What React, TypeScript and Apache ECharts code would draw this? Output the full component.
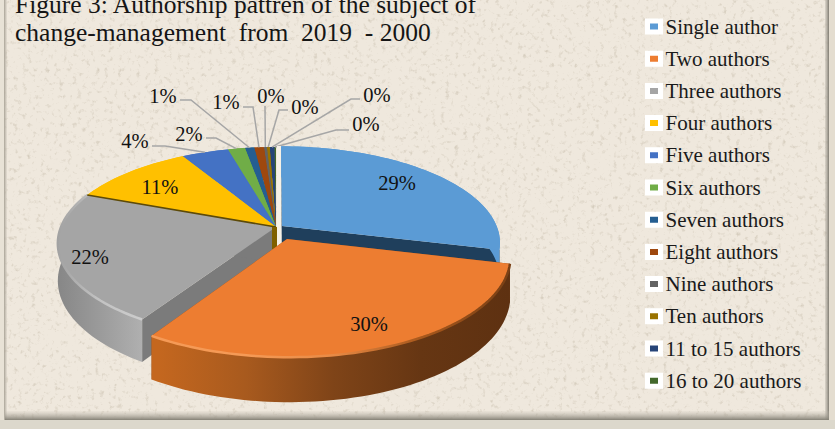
import React, { useEffect, useRef } from "react";
import * as echarts from "echarts";

const categories = ["Single author", "Two authors", "Three authors", "Four authors", "Five authors", "Six authors", "Seven authors", "Eight authors", "Nine authors", "Ten authors", "11 to 15 authors", "16 to 20 authors"];
const shares = [28.9, 30.05, 21.95, 10.8, 4.1, 1.5, 0.8, 0.85, 0.25, 0.25, 0.4, 0.15];
const palette = ["#5b9bd5", "#ed7d31", "#a5a5a5", "#ffc000", "#4472c4", "#70ad47", "#255e91", "#9e480e", "#636363", "#997300", "#264478", "#43682b"];
const titleText = "Figure 3: Authorship pattren of the subject of\nchange-management  from  2019  - 2000";

// Layout only: projection and per-slice styling
const CX = 276, CY = 227, RX = 215, RY = 93.6, K = 0.17, DEPTH = 36.4;
const explode: Record<number, [number, number]> = { 0: [0.028, -0.01], 1: [0.05, 0.125] };
const drawOrder = [11, 10, 9, 8, 7, 6, 5, 4, 3, 0, 2, 1];
const insideLabels: Record<number, [number, number]> = { 0: [397, 183], 1: [369, 324], 2: [90, 257], 3: [160, 187] };
// text centre, elbow x, elbow y
const outsideLabels: Record<number, [number, number, number, number]> = {
  4: [135, 141, 165, 146],
  5: [189, 134, 216, 138],
  6: [163, 96, 191, 100],
  7: [226, 102, 253, 107],
  8: [271, 96, 265, 106],
  9: [305, 107, 279, 110],
  10: [377, 95, 351, 99],
  11: [366, 124, 336, 130],
};
const SERIF = "'Liberation Serif', 'Times New Roman', serif";

const project = (u: number, v: number, h = 0): number[] => {
  const s = 1 / (1 - K * v);
  return [CX + RX * u * s, CY + RY * v * s + h * s];
};
const total = shares.reduce((a, b) => a + b, 0);
const boundaries = shares.reduce<number[]>((acc, s) => [...acc, acc[acc.length - 1] + (s / total) * Math.PI * 2], [0]);

const grad = (x0: number, x1: number, stops: string[]) =>
  new echarts.graphic.LinearGradient(x0, 0, x1, 0, stops.map((color, i) => ({ offset: i / (stops.length - 1), color })), true);

const wallFill: Record<number, any> = {
  1: () => grad(158, 509, ["#c4671f", "#a85a1e", "#7f4418", "#663613", "#5e3111"]),
  2: () => grad(54, 143, ["#858585", "#9a9a9a", "#b0b0b0"]),
};
const bevel: Record<number, any> = {
  1: () => grad(158, 509, ["#f59a56", "#f59a56", "#e88a45", "#a8581c", "#7a4015"]),
  2: () => grad(54, 143, ["#9f9f9f", "#c2c2c2", "#cdcdcd"]),
};
const faceColor: Record<number, string> = { 0: "#1f3f5c", 1: "#8a4a1c", 2: "#7b7b7b" };

function renderSlice(i: number) {
  const a0 = boundaries[i], a1 = boundaries[i + 1];
  const [ou, ov] = explode[i] || [0, 0];
  const steps = Math.max(4, Math.ceil((a1 - a0) / 0.03));
  const top: number[][] = [], bottom: number[][] = [];
  for (let n = 0; n <= steps; n++) {
    const a = a0 + ((a1 - a0) * n) / steps;
    const u = Math.sin(a) + ou, v = -Math.cos(a) + ov;
    top.push(project(u, v));
    bottom.push(project(u, v, DEPTH));
  }
  const apex = project(ou, ov), apexB = project(ou, ov, DEPTH);
  const children: any[] = [];
  const color = palette[i];
  const fFace = faceColor[i] || color;
  children.push({ type: "polygon", shape: { points: [apex, top[0], bottom[0], apexB] }, style: { fill: fFace } });
  children.push({ type: "polygon", shape: { points: [apex, top[steps], bottom[steps], apexB] }, style: { fill: fFace } });
  children.push({ type: "polygon", shape: { points: [...top, ...bottom.slice().reverse()] }, style: { fill: wallFill[i] ? wallFill[i]() : color } });
  children.push({ type: "polygon", shape: { points: [apex, ...top] }, style: { fill: color } });
  if (bevel[i]) {
    children.push({ type: "polyline", shape: { points: top }, style: { fill: "none", stroke: bevel[i](), lineWidth: 2.5 } });
  }
  if (i === 2) {
    // dark seam under the neighbouring gold slice, and the central post
    children.push({ type: "polyline", shape: { points: [top[steps], apex] }, style: { fill: "none", stroke: "#5d4a08", lineWidth: 1.5 } });
    children.push({ type: "polygon", shape: { points: [[CX - 4, CY], [CX + 1, CY], [CX + 1, CY + 22], [CX - 4, CY + 22]] }, style: { fill: "#7f6000" } });
  }
  if (i === 0) {
    const backY = project(0, -1)[1];
    children.unshift({ type: "polygon", shape: { points: [[CX + 1, backY - 1], [CX + 7, backY - 1], [CX + 7, CY + 14], [CX + 1, CY + 22]] }, style: { fill: "#f6f1e6" } });
  }
  const label = `${Math.round(shares[i])}%`;
  const mkText = (x: number, y: number) => ({
    type: "text", x, y,
    style: { text: label, fill: "#111111", font: `20.5px ${SERIF}`, align: "center", verticalAlign: "middle", textAlign: "center", textVerticalAlign: "middle" },
  });
  if (insideLabels[i]) children.push(mkText(insideLabels[i][0], insideLabels[i][1]));
  if (outsideLabels[i]) {
    const [tx, ty, ex, ey] = outsideLabels[i];
    const mid = (a0 + a1) / 2;
    const anchor = project(Math.sin(mid), -Math.cos(mid));
    const startX = ex < anchor[0] && i < 8 ? tx + 17 : i === 8 ? ex : tx - 17;
    const startY = ey;
    children.push({ type: "polyline", shape: { points: [[startX, startY], [ex, ey], anchor] }, style: { fill: "none", stroke: "#a6a6a6", lineWidth: 1.5 } });
    children.push(mkText(tx, ty));
  }
  return { type: "group", children };
}

const frame = [
  { type: "rect", shape: { x: 0, y: 0, width: 4, height: 429 }, style: { fill: "#e8e2d6" } },
  { type: "rect", shape: { x: 4, y: 0, width: 3, height: 420 }, style: { fill: new echarts.graphic.LinearGradient(0, 0, 1, 0, [{ offset: 0, color: "#a8a296" }, { offset: 1, color: "rgba(190,184,172,0.2)" }]) } },
  { type: "rect", shape: { x: 825, y: 0, width: 4, height: 420 }, style: { fill: new echarts.graphic.LinearGradient(0, 0, 1, 0, [{ offset: 0, color: "rgba(170,165,155,0.3)" }, { offset: 1, color: "#807c72" }]) } },
  { type: "rect", shape: { x: 829, y: 0, width: 6, height: 429 }, style: { fill: "#e4ddd0" } },
  { type: "rect", shape: { x: 5, y: 411, width: 824, height: 9 }, style: { fill: new echarts.graphic.LinearGradient(0, 0, 0, 1, [{ offset: 0, color: "rgba(190,184,172,0.1)" }, { offset: 1, color: "#858176" }]) } },
  { type: "rect", shape: { x: 0, y: 420, width: 835, height: 9 }, style: { fill: "#dcd8cc" } },
].map((g) => ({ ...g, silent: true, z: 0 }));

const noise = `<svg xmlns="http://www.w3.org/2000/svg" width="835" height="429"><filter id="n"><feTurbulence type="fractalNoise" baseFrequency="0.22" numOctaves="4" seed="4"/><feColorMatrix values="0 0 0 0 0.62 0 0 0 0 0.56 0 0 0 0 0.46 0 0 0 2.2 -1.25"/></filter><rect width="100%" height="100%" filter="url(#n)"/></svg>`;

export default function App() {
  const ref = useRef<HTMLDivElement>(null);
  useEffect(() => {
    const chart = echarts.init(ref.current!, undefined, { renderer: "svg" });
    chart.setOption({
      animation: false,
      color: palette,
      title: {
        text: titleText, left: 10, top: -15,
        textStyle: { fontFamily: SERIF, fontWeight: "normal", fontSize: 25.5, color: "#151515", lineHeight: 28 },
      },
      legend: {
        orient: "vertical", left: 640, top: 11, itemWidth: 13, itemHeight: 11, itemGap: 11.2, selectedMode: false, icon: "rect",
        data: categories,
        itemStyle: { borderColor: "#ffffff", borderWidth: 5 },
        textStyle: { fontFamily: SERIF, fontSize: 21, color: "#1a1a1a", lineHeight: 20 },
      },
      graphic: frame,
      series: categories.map((name, i) => ({
        type: "custom", name, coordinateSystem: "none", data: [[shares[i]]], z: 2 + drawOrder.indexOf(i), silent: true,
        renderItem: () => renderSlice(i),
      })),
    });
    return () => chart.dispose();
  }, []);
  return (
    <div
      ref={ref}
      style={{
        position: "absolute", left: 0, top: 0, width: 835, height: 429,
        backgroundColor: "#efe8dd",
        backgroundImage: `url("data:image/svg+xml,${encodeURIComponent(noise)}")`,
      }}
    />
  );
}
